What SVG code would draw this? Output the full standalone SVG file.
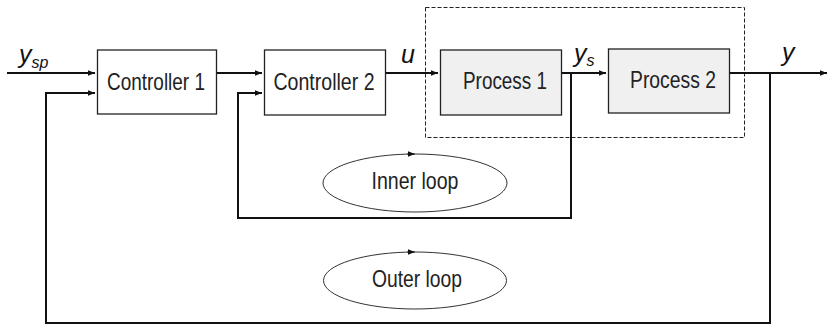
<svg xmlns="http://www.w3.org/2000/svg" width="827" height="330" viewBox="0 0 827 330">
<style>
.box{fill:#fff;stroke:#222;stroke-width:1.3}
.proc{fill:#f0f0f0;stroke:#222;stroke-width:1.3}
.lbl{font-family:"Liberation Sans Narrow","Liberation Sans",Arial,sans-serif;font-size:24.5px;fill:#222;text-anchor:middle}
.it{font-family:"Liberation Sans Narrow","Liberation Sans",Arial,sans-serif;font-size:25px;font-style:italic;fill:#111}
.wire{fill:none;stroke:#111;stroke-width:2}
.loop{fill:none;stroke:#333;stroke-width:1}
</style>
<defs>
<marker id="ah" viewBox="0 0 10 10" refX="10" refY="5" markerWidth="10" markerHeight="7" markerUnits="userSpaceOnUse" orient="auto">
<path d="M0,1 L10,5 L0,9 Z" fill="#111"/>
</marker>
</defs>
<rect x="425.5" y="7.5" width="319" height="130" fill="none" stroke="#222" stroke-width="1" stroke-dasharray="4,2"/>
<g id="controller1"><rect class="box" x="97.5" y="50" width="119" height="64"/><text class="lbl" x="156" y="90" textLength="98" lengthAdjust="spacingAndGlyphs">Controller 1</text></g>
<g id="controller2"><rect class="box" x="264.5" y="50" width="121" height="65"/><text class="lbl" x="324" y="90" textLength="101" lengthAdjust="spacingAndGlyphs">Controller 2</text></g>
<g id="process1"><rect class="proc" x="440.5" y="50" width="121" height="65"/><text class="lbl" x="505" y="89" textLength="84" lengthAdjust="spacingAndGlyphs">Process 1</text></g>
<g id="process2"><rect class="proc" x="608.5" y="49" width="121" height="64"/><text class="lbl" x="673" y="88" textLength="86" lengthAdjust="spacingAndGlyphs">Process 2</text></g>
<g id="innerloop"><ellipse class="loop" cx="415" cy="183" rx="92" ry="29"/><path d="M407,154 L415,154" class="loop" marker-end="url(#ah)"/><text class="lbl" x="415" y="189" textLength="87" lengthAdjust="spacingAndGlyphs">Inner loop</text></g>
<g id="outerloop"><ellipse class="loop" cx="415" cy="280.5" rx="91.5" ry="28.5"/><path d="M407,252 L415,252" class="loop" marker-end="url(#ah)"/><text class="lbl" x="417" y="287" textLength="90" lengthAdjust="spacingAndGlyphs">Outer loop</text></g>
<g id="connectors">
<path class="wire" d="M7,73 L95,73" marker-end="url(#ah)"/>
<path class="wire" d="M217,73 L262,73" marker-end="url(#ah)"/>
<path class="wire" d="M386,73 L438,73" marker-end="url(#ah)"/>
<path class="wire" d="M562,73 L606,73" marker-end="url(#ah)"/>
<path class="wire" d="M730,73 L827,73" marker-end="url(#ah)"/>
<path class="wire" d="M571,73 L571,218 L238,218 L238,93 L262,93" marker-end="url(#ah)"/>
<path class="wire" d="M770,73 L770,323 L46,323 L46,93 L95,93" marker-end="url(#ah)"/>
</g>
<g id="labels">
<text class="it" x="19" y="63">y<tspan font-size="16" dy="5">sp</tspan></text>
<text class="it" x="401" y="63">u</text>
<text class="it" x="574" y="62">y<tspan font-size="16" dy="4">s</tspan></text>
<text class="it" x="782" y="61">y</text>
</g>
</svg>
